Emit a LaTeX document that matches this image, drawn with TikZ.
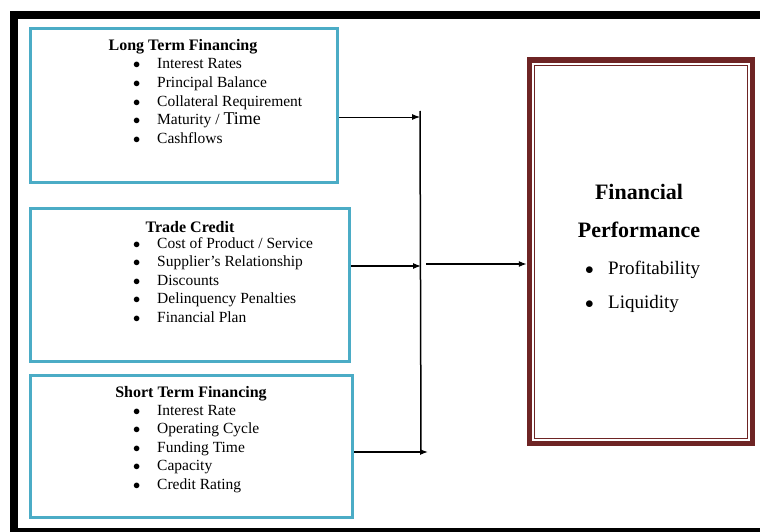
\documentclass[tikz,border=0pt]{standalone}
\usepackage{fontspec}
\setmainfont{Liberation Serif}
\usepackage{tikz}
\usetikzlibrary{calc, arrows.meta}
\definecolor{boxcyan}{RGB}{75,172,198}
\definecolor{perfred}{RGB}{110,36,36}
\newcommand{\itm}{\makebox[24pt][l]{\rule{0pt}{11pt}$\bullet$}}
\newcommand{\bigitm}{\makebox[23pt][l]{\rule{0pt}{13pt}$\bullet$}}

\begin{document}
\begin{tikzpicture}[x=1pt,y=-1pt,
  factor/.style={draw=boxcyan,line width=3pt},
  perf/.style={draw=perfred,line width=5.5pt,minimum width=223pt,minimum height=383.5pt},
  head/.style={font=\fontsize{16}{19}\selectfont\bfseries,inner sep=0pt,anchor=base},
  items/.style={font=\fontsize{15.5}{18.5}\selectfont,align=left,inner sep=0pt,anchor=north west},
  conn/.style={-{Latex[length=8pt,width=6pt]},line width=1.3pt}]
  \clip (0,0) rectangle (760,532);
  \draw[line width=8pt] (14,15) rectangle (770,532); %outer frame
  \node[factor,minimum width=307pt,minimum height=154pt] (ltf) at (184,105.5) {};
  \node[factor,minimum width=319pt,minimum height=153pt] (tc) at (190,285) {};
  \node[factor,minimum width=322pt,minimum height=142pt] (stf) at (191.5,446.5) {};
  \node[perf] (fp) at (641,251.75) {};
  \draw[perfred,line width=1.2pt] ($(fp.north west)+(8,8)$) rectangle ($(fp.south east)+(-8,-8)$); %inner line
  % factor texts
  \node[head] (ltf-head) at (183,50.5) {Long Term Financing};
  \node[items] (ltf-list) at (133,57.8) {\itm Interest Rates\\ \itm Principal Balance\\ \itm Collateral Requirement\\ \itm Maturity / {\fontsize{18}{18}\selectfont Time}\\ \itm Cashflows};
  \node[head] (tc-head) at (190,232) {Trade Credit};
  \node[items] (tc-list) at (133,237) {\itm Cost of Product / Service\\ \itm Supplier’s Relationship\\ \itm Discounts\\ \itm Delinquency Penalties\\ \itm Financial Plan};
  \node[head] (stf-head) at (191,397) {Short Term Financing};
  \node[items] (stf-list) at (133,404) {\itm Interest Rate\\ \itm Operating Cycle\\ \itm Funding Time\\ \itm Capacity\\ \itm Credit Rating};
  % performance texts
  \node[font=\fontsize{22}{38}\selectfont\bfseries,align=center,inner sep=0pt,anchor=north] (fp-head) at (639,183) {\rule{0pt}{16pt}Financial\\Performance};
  \node[font=\fontsize{19}{34}\selectfont,align=left,inner sep=0pt,anchor=north west] (fp-list) at (585,261) {\bigitm Profitability\\ \bigitm Liquidity};
  % connectors
  \coordinate (bartop) at (420,111);
  \coordinate (jt) at (420,117);
  \coordinate (jm) at (421,266);
  \coordinate (jb) at (421,452);
  \coordinate (jo) at (426,264);
  \draw[line width=1.5pt] (bartop) -- (jb);
  \draw[conn,line width=0.9pt] (ltf.east |- jt) -- (jt);
  \draw[conn] (tc.east |- jm) -- (jm);
  \draw[conn] (stf.east |- jb) -- ($(jb)+(7,0)$);
  \draw[conn] (jo) -- (fp.west |- jo);
\end{tikzpicture}
\end{document}
